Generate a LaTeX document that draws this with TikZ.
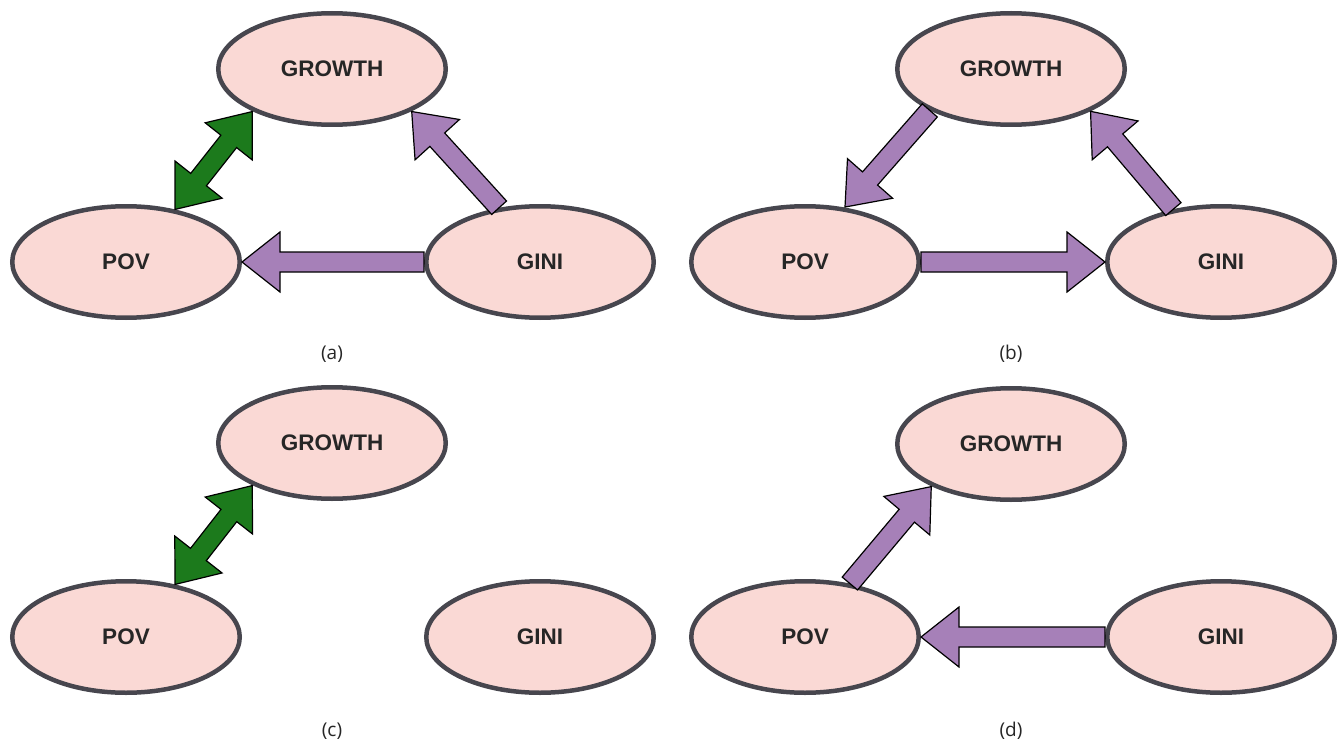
\documentclass[tikz,border=0pt]{standalone}
\usepackage{fontspec}
\setmainfont{Open Sans}
\newfontfamily\nodefont{Liberation Sans}
\usetikzlibrary{shapes.geometric,calc}
\definecolor{nodefill}{HTML}{FAD9D5}
\definecolor{nodeline}{HTML}{47464E}
\definecolor{arrpurple}{HTML}{A680B8}
\definecolor{arrgreen}{HTML}{1C7A1C}
\tikzset{
  var/.style={ellipse, draw=nodeline, fill=nodefill, line width=4.5pt,
    minimum width=227.5pt, minimum height=111.5pt, inner sep=0pt,
    font=\nodefont\bfseries\fontsize{22.5}{26}\selectfont, text=black!85},
  captext/.style={font=\fontsize{19}{22}\selectfont, text=black!85},
  purplearr/.style={draw=black, fill=arrpurple, line width=1.2pt, line join=miter},
  greenarr/.style={draw=black, fill=arrgreen, line width=1.2pt, line join=miter},
  ba/.style={shift={(\p1)}, rotate=\n1}
}
% single block arrow: #1 style, #2 start, #3 end
\newcommand\blockarr[3]{%
  \path[#1] let \p1=#2, \p2=#3, \n1={atan2(\y2-\y1,\x2-\x1)},
    \n2={veclen(\x2-\x1,\y2-\y1)} in
    ([ba]0pt,-10pt) -- ([ba]\n2-38pt,-10pt) -- ([ba]\n2-38pt,-30pt)
    -- ([ba]\n2,0pt) -- ([ba]\n2-38pt,30pt) -- ([ba]\n2-38pt,10pt)
    -- ([ba]0pt,10pt) -- cycle;}
% double block arrow
\newcommand\dblockarr[3]{%
  \path[#1] let \p1=#2, \p2=#3, \n1={atan2(\y2-\y1,\x2-\x1)},
    \n2={veclen(\x2-\x1,\y2-\y1)} in
    ([ba]38pt,-10pt) -- ([ba]\n2-38pt,-10pt) -- ([ba]\n2-38pt,-30pt)
    -- ([ba]\n2,0pt) -- ([ba]\n2-38pt,30pt) -- ([ba]\n2-38pt,10pt)
    -- ([ba]38pt,10pt) -- ([ba]38pt,30pt) -- ([ba]0pt,0pt)
    -- ([ba]38pt,-30pt) -- cycle;}
\begin{document}
\begin{tikzpicture}[x=1pt,y=-1pt]
\useasboundingbox (0,0) rectangle (1340,746);
% panel (a)
\node[var] (ga) at (332,69) {GROWTH};
\node[var] (pa) at (126,262) {POV};
\node[var] (ia) at (540,262) {GINI};
\node[captext] (la) at (332,354) {(a)};
\dblockarr{greenarr}{(pa.47)}{(ga.-152)}
\blockarr{purplearr}{(ia.127)}{(ga.-28)}
\blockarr{purplearr}{(ia.west)}{(pa.east)}
% panel (b)
\node[var] (gb) at (1011,69) {GROWTH};
\node[var] (pb) at (805,262) {POV};
\node[var] (ib) at (1221,262) {GINI};
\node[captext] (lb) at (1011,354) {(b)};
\blockarr{purplearr}{(gb.-153)}{(pb.54)}
\blockarr{purplearr}{(ib.132)}{(gb.-28)}
\blockarr{purplearr}{(pb.east)}{(ib.west)}
% panel (c)
\node[var] (gc) at (332,443) {GROWTH};
\node[var] (pc) at (126,637) {POV};
\node[var] (ic) at (540,637) {GINI};
\node[captext] (lc) at (332,731) {(c)};
\dblockarr{greenarr}{(pc.47)}{(gc.-152)}
% panel (d)
\node[var] (gd) at (1011,444) {GROWTH};
\node[var] (pd) at (805,637) {POV};
\node[var] (id) at (1221,637) {GINI};
\node[captext] (ld) at (1011,731) {(d)};
\blockarr{purplearr}{(pd.50)}{(gd.-152)}
\blockarr{purplearr}{(id.west)}{(pd.east)}
\end{tikzpicture}
\end{document}
